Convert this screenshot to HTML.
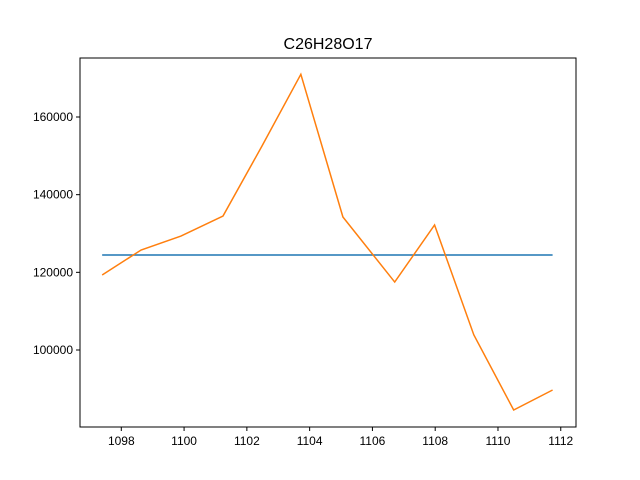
<!DOCTYPE html>
<html><head><meta charset="utf-8"><style>
body{margin:0;background:#fff}
svg{display:block;font-family:"Liberation Sans","DejaVu Sans",sans-serif}
</style></head><body>
<svg id="chart" width="640" height="480" viewBox="0 0 640 480"></svg>
<script>
const xValues=[1097.39,1098.63,1099.90,1101.24,1102.48,1103.72,1105.06,1106.71,1107.98,1109.23,1110.50,1111.74];
const seriesOrange=[119300,125750,129350,134500,152500,171000,134250,117500,132200,103900,84550,89700];
const seriesBlue=[124460,124460];
const blueX=[1097.39,1111.74];
const xTicks=[1098,1100,1102,1104,1106,1108,1110,1112];
const yTicks=[100000,120000,140000,160000];
const title="C26H28O17";

const L=80,R=576,T=58,B=427;
const sx=v=>121.3+(v-1098)*31.39;
const ys=v=>350-(v-100000)/60000*233;
const svg=document.getElementById('chart');
const NS='http://www.w3.org/2000/svg';
function mk(t,a){const e=document.createElementNS(NS,t);for(const k in a)e.setAttribute(k,a[k]);svg.appendChild(e);return e;}
let t=mk('text',{x:328,y:49,'text-anchor':'middle','font-size':16,fill:'#000'});t.textContent=title;


let f=mk('rect',{x:L,y:T,width:R-L,height:B-T,fill:'none',stroke:'#000','stroke-width':1});


xTicks.forEach(v=>{const x=sx(v);
 const l=mk('line',{x1:x,x2:x,y1:B,y2:B+4,stroke:'#000'});
 
 
 const tx=mk('text',{x:x,y:B+18,'text-anchor':'middle','font-size':12,fill:'#000'});tx.textContent=v;
 
 });
yTicks.forEach(v=>{const y=ys(v);
 const l=mk('line',{x1:L-4,x2:L,y1:y,y2:y,stroke:'#000'});
 
 
 const tx=mk('text',{x:L-7,y:y+4,'text-anchor':'end','font-size':12,fill:'#000'});tx.textContent=v;
 
 });
let b=mk('polyline',{points:blueX.map((x,i)=>sx(x)+','+ys(seriesBlue[i])).join(' '),fill:'none',stroke:'#1f77b4','stroke-width':1.5});


let o=mk('polyline',{points:xValues.map((x,i)=>sx(x)+','+ys(seriesOrange[i])).join(' '),fill:'none',stroke:'#ff7f0e','stroke-width':1.5});


</script>
</body></html>
